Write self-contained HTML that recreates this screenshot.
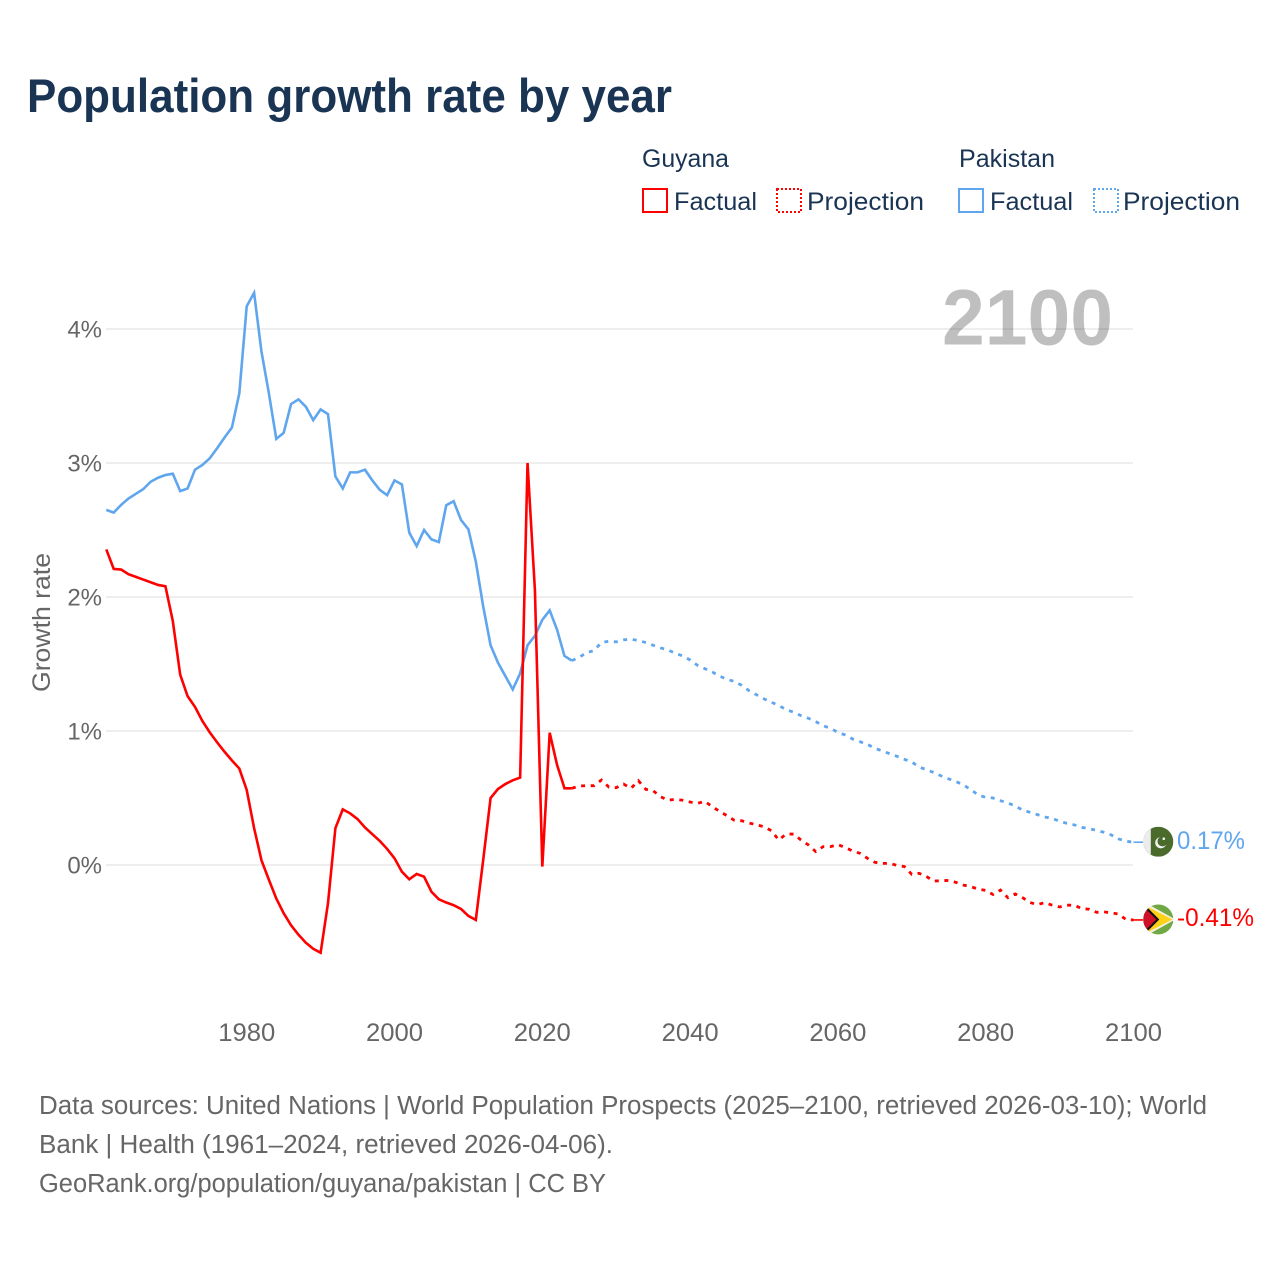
<!DOCTYPE html>
<html lang="en">
<head>
<meta charset="utf-8">
<title>Population growth rate by year</title>
<style>
  html, body { margin: 0; padding: 0; background: #fff; }
  svg { display: block; }
  text { font-family: "Liberation Sans", sans-serif; }
</style>
</head>
<body>
<svg id="chart" xmlns="http://www.w3.org/2000/svg" width="1280" height="1280" viewBox="0 0 1280 1280">
  <defs>
    <clipPath id="flag-clip"><circle cx="0" cy="0" r="15"></circle></clipPath>
  </defs>
  <rect x="0" y="0" width="1280" height="1280" fill="#ffffff"></rect>

  <text x="27" y="112" font-size="47" font-weight="700" fill="#1a3454" textLength="645" lengthAdjust="spacingAndGlyphs">Population growth rate by year</text>

  <g id="grid"></g>

  <text id="year-watermark" x="942" y="344.5" font-size="79" font-weight="700" fill="#000000" fill-opacity="0.25" textLength="171" lengthAdjust="spacingAndGlyphs">2100</text>

  <g id="y-axis"></g>
  <g id="x-axis"></g>
  <text transform="translate(50 692) rotate(-90)" font-size="25" fill="#666666" textLength="139" lengthAdjust="spacingAndGlyphs">Growth rate</text>

  <g id="series"></g>

  <g id="flag-pakistan">
    <g clip-path="url(#flag-clip)">
      <rect x="-15" y="-15" width="30" height="30" fill="#4a6b2c"></rect>
      <rect x="-15" y="-15" width="7.5" height="30" fill="#ececec"></rect>
      <circle cx="2.5" cy="1" r="5.6" fill="#f2f2f2"></circle>
      <circle cx="4.2" cy="-0.4" r="5" fill="#4a6b2c"></circle>
      <circle cx="5.5" cy="-3" r="1.3" fill="#f2f2f2"></circle>
    </g>
  </g>
  <g id="flag-guyana">
    <g clip-path="url(#flag-clip)">
      <rect x="-15" y="-15" width="30" height="30" fill="#6fa844"></rect>
      <polygon points="-17,-19 17,0 -17,19" fill="#f4f0dc"></polygon>
      <polygon points="-17,-16 14,0 -17,16" fill="#fcd116"></polygon>
      <polygon points="-15,-16 1,0 -15,16" fill="#111111"></polygon>
      <polygon points="-17,-15 -2,0 -17,15" fill="#ce1126"></polygon>
    </g>
  </g>
  <text id="label-pakistan" x="1177" font-size="25" fill="#5fa6ee" textLength="68" lengthAdjust="spacingAndGlyphs"></text>
  <text id="label-guyana" x="1177" font-size="25" fill="#ff0000" textLength="77" lengthAdjust="spacingAndGlyphs"></text>

  <g>
    <text x="642" y="167" font-size="25" fill="#1a3454" textLength="87" lengthAdjust="spacingAndGlyphs">Guyana</text>
    <text x="959" y="167" font-size="25" fill="#1a3454" textLength="96" lengthAdjust="spacingAndGlyphs">Pakistan</text>
    <rect x="643" y="189" width="24" height="23" fill="none" stroke="#ff0000" stroke-width="2"></rect>
    <text x="674" y="210" font-size="25" fill="#1a3454" textLength="83" lengthAdjust="spacingAndGlyphs">Factual</text>
    <rect x="777" y="189" width="24" height="23" fill="none" stroke="#ff0000" stroke-width="2" stroke-dasharray="2 2"></rect>
    <text x="807" y="210" font-size="25" fill="#1a3454" textLength="117" lengthAdjust="spacingAndGlyphs">Projection</text>
    <rect x="959" y="189" width="24" height="23" fill="none" stroke="#5fa6ee" stroke-width="2"></rect>
    <text x="990" y="210" font-size="25" fill="#1a3454" textLength="83" lengthAdjust="spacingAndGlyphs">Factual</text>
    <rect x="1094" y="189" width="24" height="23" fill="none" stroke="#5fa6ee" stroke-width="2" stroke-dasharray="2 2"></rect>
    <text x="1123" y="210" font-size="25" fill="#1a3454" textLength="117" lengthAdjust="spacingAndGlyphs">Projection</text>
  </g>

  <g>
    <text x="39" y="1114" font-size="25.5" fill="#666666" textLength="1168" lengthAdjust="spacingAndGlyphs">Data sources: United Nations | World Population Prospects (2025–2100, retrieved 2026-03-10); World</text>
    <text x="39" y="1153" font-size="25.5" fill="#666666" textLength="574" lengthAdjust="spacingAndGlyphs">Bank | Health (1961–2024, retrieved 2026-04-06).</text>
    <text x="39" y="1192" font-size="25.5" fill="#666666" textLength="567" lengthAdjust="spacingAndGlyphs">GeoRank.org/population/guyana/pakistan | CC BY</text>
  </g>
</svg>

<script>
// Chart data (growth rate in %)
const firstFactualYear = 1961;
const firstProjectionYear = 2024;
const yTicks = [0, 1, 2, 3, 4];
const yTickLabels = ["0%", "1%", "2%", "3%", "4%"];
const xTicks = [1980, 2000, 2020, 2040, 2060, 2080, 2100];
const xTickLabels = ["1980", "2000", "2020", "2040", "2060", "2080", "2100"];

const pakistanFactual = [
  2.65, 2.63, 2.687, 2.735, 2.77, 2.805, 2.86, 2.89, 2.91, 2.92,
  2.79, 2.81, 2.95, 2.985, 3.035, 3.11, 3.19, 3.265, 3.52, 4.17,
  4.27, 3.83, 3.52, 3.18, 3.225, 3.44, 3.475, 3.42, 3.32, 3.40,
  3.365, 2.90, 2.81, 2.93, 2.93, 2.95, 2.87, 2.80, 2.76, 2.87,
  2.84, 2.48, 2.38, 2.50, 2.43, 2.41, 2.685, 2.715, 2.575, 2.505,
  2.265, 1.93, 1.64, 1.51, 1.41, 1.31, 1.43, 1.64, 1.71, 1.83,
  1.90, 1.755, 1.56, 1.525
];
const pakistanProjection = [
  1.525, 1.55, 1.585, 1.60, 1.66, 1.67, 1.665, 1.68, 1.685, 1.675,
  1.66, 1.64, 1.62, 1.605, 1.58, 1.56, 1.53, 1.49, 1.465, 1.44,
  1.41, 1.385, 1.37, 1.34, 1.30, 1.27, 1.24, 1.215, 1.19, 1.16,
  1.14, 1.115, 1.095, 1.07, 1.04, 1.02, 0.99, 0.97, 0.94, 0.92,
  0.90, 0.871, 0.851, 0.831, 0.811, 0.789, 0.769, 0.731, 0.711, 0.689,
  0.664, 0.642, 0.622, 0.597, 0.562, 0.522, 0.505, 0.50, 0.48, 0.463,
  0.44, 0.41, 0.393, 0.376, 0.358, 0.348, 0.326, 0.311, 0.299, 0.281,
  0.271, 0.259, 0.244, 0.224, 0.194, 0.177, 0.17
];
const guyanaFactual = [
  2.355, 2.21, 2.205, 2.17, 2.15, 2.13, 2.11, 2.09, 2.08, 1.82,
  1.42, 1.26, 1.18, 1.075, 0.99, 0.915, 0.845, 0.78, 0.72, 0.56,
  0.275, 0.035, -0.11, -0.25, -0.36, -0.45, -0.52, -0.58, -0.625, -0.655,
  -0.285, 0.275, 0.415, 0.385, 0.343, 0.28, 0.23, 0.18, 0.12, 0.05,
  -0.05, -0.107, -0.067, -0.087, -0.20, -0.256, -0.28, -0.30, -0.328, -0.38,
  -0.41, 0.037, 0.50, 0.567, 0.604, 0.632, 0.652, 3.0, 2.05, -0.012,
  0.987, 0.746, 0.572, 0.572
];
const guyanaProjection = [
  0.572, 0.59, 0.592, 0.592, 0.634, 0.582, 0.577, 0.604, 0.572, 0.629,
  0.565, 0.554, 0.51, 0.483, 0.49, 0.483, 0.47, 0.46, 0.475, 0.435,
  0.40, 0.368, 0.333, 0.33, 0.313, 0.30, 0.286, 0.256, 0.187, 0.231,
  0.231, 0.187, 0.15, 0.10, 0.137, 0.137, 0.152, 0.13, 0.104, 0.087,
  0.05, 0.02, 0.012, 0.012, -0.003, -0.012, -0.07, -0.062, -0.087, -0.12,
  -0.117, -0.115, -0.13, -0.15, -0.162, -0.18, -0.19, -0.22, -0.187, -0.244,
  -0.216, -0.244, -0.28, -0.296, -0.28, -0.30, -0.313, -0.30, -0.30, -0.326,
  -0.33, -0.353, -0.35, -0.358, -0.366, -0.408, -0.41
];

// Scales
const xScale = function (year) { return 106.3 + (year - 1961) * (1133.5 - 106.3) / 139; };
const yScale = function (value) { return 865 - value * 134; };

const NS = 'http://www.w3.org/2000/svg';
const gridGroup = document.getElementById('grid');
const yAxisGroup = document.getElementById('y-axis');
const xAxisGroup = document.getElementById('x-axis');
const seriesGroup = document.getElementById('series');

yTicks.forEach(function (tick, i) {
  const line = document.createElementNS(NS, 'line');
  
  
  line.setAttribute('x1', 106);
  line.setAttribute('x2', 1133);
  line.setAttribute('y1', yScale(tick));
  line.setAttribute('y2', yScale(tick));
  line.setAttribute('stroke', '#e9e9e9');
  line.setAttribute('stroke-width', '1.5');
  gridGroup.appendChild(line);

  const label = document.createElementNS(NS, 'text');
  
  
  label.setAttribute('x', 102);
  label.setAttribute('y', yScale(tick) + 8.5);
  label.setAttribute('text-anchor', 'end');
  label.setAttribute('font-size', '24');
  label.setAttribute('fill', '#666666');
  label.textContent = yTickLabels[i];
  yAxisGroup.appendChild(label);
});

xTicks.forEach(function (tick, i) {
  const label = document.createElementNS(NS, 'text');
  
  
  label.setAttribute('x', xScale(tick));
  label.setAttribute('y', 1041);
  label.setAttribute('text-anchor', 'middle');
  label.setAttribute('font-size', '25');
  label.setAttribute('fill', '#666666');
  label.setAttribute('textLength', '57');
  label.setAttribute('lengthAdjust', 'spacingAndGlyphs');
  label.textContent = xTickLabels[i];
  xAxisGroup.appendChild(label);
});

function pathFor(values, startYear) {
  return values.map(function (v, i) {
    return (i === 0 ? 'M' : 'L') + xScale(startYear + i).toFixed(2) + ' ' + yScale(v).toFixed(2);
  }).join(' ');
}

const pakistanFactualLine = document.createElementNS(NS, 'path');


pakistanFactualLine.setAttribute('d', pathFor(pakistanFactual, firstFactualYear));
pakistanFactualLine.setAttribute('fill', 'none');
pakistanFactualLine.setAttribute('stroke', '#5fa6ee');
pakistanFactualLine.setAttribute('stroke-width', '2.6');
pakistanFactualLine.setAttribute('stroke-linejoin', 'miter');
seriesGroup.appendChild(pakistanFactualLine);

const pakistanProjectionLine = document.createElementNS(NS, 'path');


pakistanProjectionLine.setAttribute('d', pathFor(pakistanProjection, firstProjectionYear));
pakistanProjectionLine.setAttribute('fill', 'none');
pakistanProjectionLine.setAttribute('stroke', '#5fa6ee');
pakistanProjectionLine.setAttribute('stroke-width', '2.8');
pakistanProjectionLine.setAttribute('stroke-dasharray', '4 5.6');
seriesGroup.appendChild(pakistanProjectionLine);

const guyanaFactualLine = document.createElementNS(NS, 'path');


guyanaFactualLine.setAttribute('d', pathFor(guyanaFactual, firstFactualYear));
guyanaFactualLine.setAttribute('fill', 'none');
guyanaFactualLine.setAttribute('stroke', '#ff0000');
guyanaFactualLine.setAttribute('stroke-width', '2.6');
guyanaFactualLine.setAttribute('stroke-linejoin', 'miter');
seriesGroup.appendChild(guyanaFactualLine);

const guyanaProjectionLine = document.createElementNS(NS, 'path');


guyanaProjectionLine.setAttribute('d', pathFor(guyanaProjection, firstProjectionYear));
guyanaProjectionLine.setAttribute('fill', 'none');
guyanaProjectionLine.setAttribute('stroke', '#ff0000');
guyanaProjectionLine.setAttribute('stroke-width', '2.8');
guyanaProjectionLine.setAttribute('stroke-dasharray', '4 5.6');
seriesGroup.appendChild(guyanaProjectionLine);

// End markers
const pakistanEnd = pakistanProjection[pakistanProjection.length - 1];
const guyanaEnd = guyanaProjection[guyanaProjection.length - 1];

const pakistanStub = document.createElementNS(NS, 'line');


pakistanStub.setAttribute('x1', xScale(2100));
pakistanStub.setAttribute('x2', 1143);
pakistanStub.setAttribute('y1', yScale(pakistanEnd));
pakistanStub.setAttribute('y2', yScale(pakistanEnd));
pakistanStub.setAttribute('stroke', '#5fa6ee');
pakistanStub.setAttribute('stroke-width', '1.6');
seriesGroup.appendChild(pakistanStub);

const guyanaStub = document.createElementNS(NS, 'line');


guyanaStub.setAttribute('x1', xScale(2100));
guyanaStub.setAttribute('x2', 1143);
guyanaStub.setAttribute('y1', yScale(guyanaEnd));
guyanaStub.setAttribute('y2', yScale(guyanaEnd));
guyanaStub.setAttribute('stroke', '#ff0000');
guyanaStub.setAttribute('stroke-width', '1.6');
seriesGroup.appendChild(guyanaStub);

document.getElementById('flag-pakistan').setAttribute('transform', 'translate(1158.3 ' + (yScale(pakistanEnd) - 0.5) + ')');
document.getElementById('flag-guyana').setAttribute('transform', 'translate(1158.3 ' + (yScale(guyanaEnd) - 0.5) + ')');

const pakistanLabel = document.getElementById('label-pakistan');
pakistanLabel.setAttribute('y', yScale(pakistanEnd) + 7);
pakistanLabel.textContent = pakistanEnd.toFixed(2) + '%';

const guyanaLabel = document.getElementById('label-guyana');
guyanaLabel.setAttribute('y', yScale(guyanaEnd) + 6);
guyanaLabel.textContent = guyanaEnd.toFixed(2) + '%';
</script>
</body>
</html>
